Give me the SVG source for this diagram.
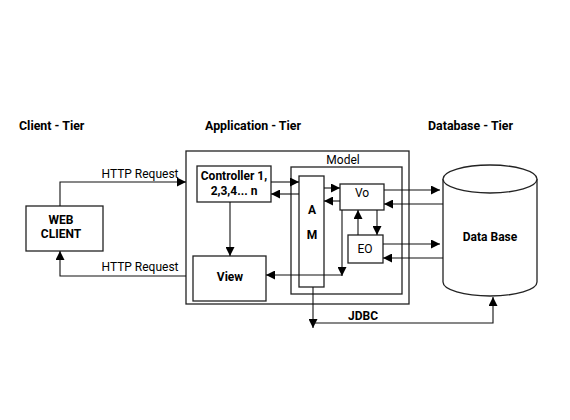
<svg xmlns="http://www.w3.org/2000/svg" width="570" height="420" viewBox="0 0 570 420">
<style>
.box{fill:#fff;stroke:#222;stroke-width:1.3}
.ln{fill:none;stroke:#111;stroke-width:1.1}
.b{font-family:Roboto,"Liberation Sans",sans-serif;font-weight:bold;font-size:12px;fill:#000}
.t{font-size:12.4px}
.r{font-family:Roboto,"Liberation Sans",sans-serif;font-size:12px;fill:#000}
</style>
<defs>
<marker id="a" viewBox="0 0 10 10" refX="10" refY="5" markerWidth="9" markerHeight="9" markerUnits="userSpaceOnUse" orient="auto">
<path d="M0,0 L10,5 L0,10 Z" fill="#000"/>
</marker>
</defs>
<rect width="570" height="420" fill="#fff"/>
<text class="b t" x="19" y="130">Client - Tier</text>
<text class="b t" x="205" y="130">Application - Tier</text>
<text class="b t" x="428" y="130">Database - Tier</text>

<g id="app-tier"><rect class="box" x="186" y="151" width="223" height="153"/></g>
<g id="model"><rect class="box" x="291" y="167" width="111" height="127"/><text class="r" x="343" y="164" text-anchor="middle">Model</text></g>
<g id="web-client"><rect class="box" x="26" y="206" width="77" height="45"/><text class="b" x="61" y="224" text-anchor="middle">WEB</text><text class="b" x="61" y="238" text-anchor="middle">CLIENT</text></g>
<g id="controller"><rect class="box" x="197" y="166" width="74" height="36"/><text class="b" x="234" y="180" text-anchor="middle">Controller 1,</text><text class="b" x="234" y="195" text-anchor="middle">2,3,4... n</text></g>
<g id="am"><rect class="box" x="299" y="176" width="25" height="111"/><text class="b" x="312" y="214" text-anchor="middle">A</text><text class="b" x="312" y="239" text-anchor="middle">M</text></g>
<g id="vo"><rect class="box" x="340" y="184" width="44" height="26"/><text class="r" x="362" y="197" text-anchor="middle">Vo</text></g>
<g id="eo"><rect class="box" x="348" y="235" width="35" height="28"/><text class="r" x="365" y="253" text-anchor="middle">EO</text></g>
<g id="view"><rect class="box" x="193" y="256" width="73" height="45"/><text class="b" x="230" y="281" text-anchor="middle">View</text></g>
<g id="database">
<path class="box" d="M443,179 L443,282 A47,14 0 0 0 537,282 L537,179"/>
<ellipse class="box" cx="490" cy="179" rx="47" ry="14"/>
<text class="b" x="490" y="241" text-anchor="middle">Data Base</text>
</g>

<g id="connectors">
<polyline class="ln" points="60,206 60,182 186,182" marker-end="url(#a)"/>
<text class="r" x="140" y="178" text-anchor="middle">HTTP Request</text>
<polyline class="ln" points="186,276 60,276 60,251" marker-end="url(#a)"/>
<text class="r" x="140" y="271" text-anchor="middle">HTTP Request</text>
<line class="ln" x1="271" y1="182" x2="299" y2="182" marker-end="url(#a)"/>
<line class="ln" x1="299" y1="194" x2="271" y2="194" marker-end="url(#a)"/>
<line class="ln" x1="324" y1="188" x2="340" y2="188" marker-end="url(#a)"/>
<line class="ln" x1="340" y1="201" x2="324" y2="201" marker-end="url(#a)"/>
<line class="ln" x1="230" y1="202" x2="230" y2="256" marker-end="url(#a)"/>
<line class="ln" x1="377" y1="210" x2="377" y2="235" marker-end="url(#a)"/>
<line class="ln" x1="358" y1="235" x2="358" y2="210" marker-end="url(#a)"/>
<line class="ln" x1="342" y1="210" x2="342" y2="276" marker-end="url(#a)"/>
<line class="ln" x1="342" y1="275" x2="266" y2="275" marker-end="url(#a)"/>
<line class="ln" x1="384" y1="190" x2="440" y2="190" marker-end="url(#a)"/>
<line class="ln" x1="443" y1="204" x2="384" y2="204" marker-end="url(#a)"/>
<line class="ln" x1="383" y1="244" x2="440" y2="244" marker-end="url(#a)"/>
<line class="ln" x1="443" y1="258" x2="383" y2="258" marker-end="url(#a)"/>
<line class="ln" x1="313" y1="287" x2="313" y2="328" marker-end="url(#a)"/>
<polyline class="ln" points="313,323 493,323 493,297" marker-end="url(#a)"/>
<text class="b" x="363" y="320" text-anchor="middle">JDBC</text>
</g>
</svg>
